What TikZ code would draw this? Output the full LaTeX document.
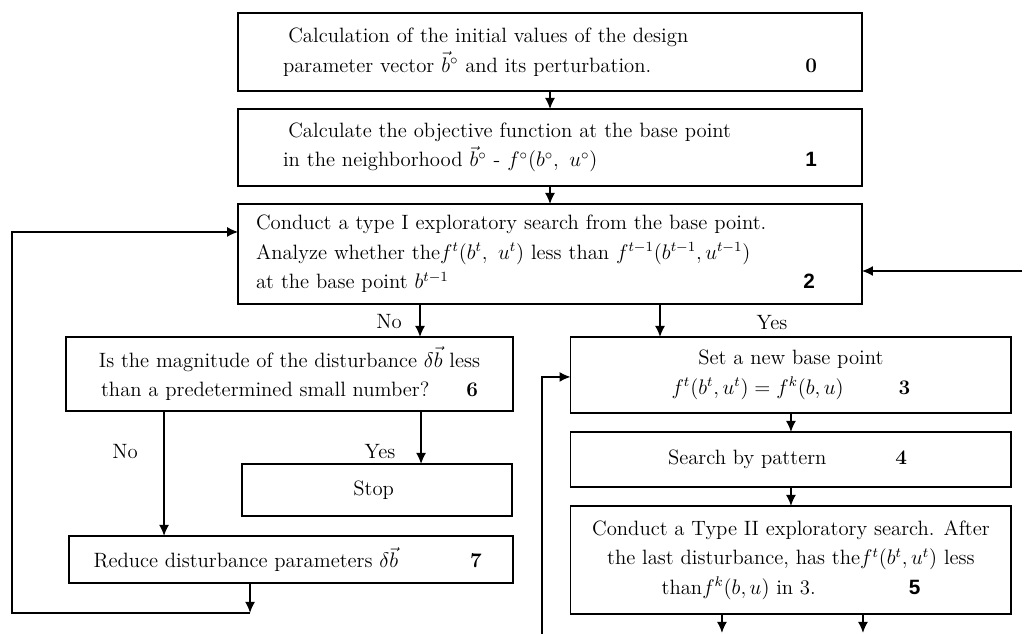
\documentclass[tikz,border=0pt]{standalone}
\usepackage{fontspec}
\newfontfamily\numfont{Liberation Sans}
\usetikzlibrary{
  positioning,
  calc,
  arrows.meta}
\tikzset{
  flow_arrow/.style={-{Latex[length=2.2mm, width=2mm]}, line width=0.8pt}
}
\tikzset{
  %% wideblock : a full width step, text flush left
  wideblock/.style={
    rectangle,
    draw=black,
    line width=1.1pt,
    minimum width=12.48cm,
    align=left,
    inner ysep=0pt,
    outer sep=0pt
  },
  %% stepbox : a step of one of the two branches
  stepbox/.style={
    rectangle,
    draw=black,
    line width=1.1pt,
    align=center,
    inner sep=0pt,
    outer sep=0pt
  },
  %% branch : the Yes / No labels
  branch/.style={
    inner sep=0pt
  }
}

\begin{document}
\begin{tikzpicture}
  [x=0.02cm,
  y=-0.02cm,
  font=\fontsize{11.8}{16.8}\selectfont]

  \useasboundingbox (0, 0) rectangle (1027, 634);

  %% Main column
  \node (init) [wideblock, minimum height=1.56cm, inner xsep=0.9cm,
    text width=10.68cm] at (550, 52) {%
    \hspace*{3pt}Calculation of the initial values of the design\\
    parameter vector $\vec{b}^{\circ}$ and its perturbation.\hfill\textbf{0}
  };

  \node (objective) [below=0.36cm of init, wideblock, minimum height=1.54cm,
    inner xsep=0.9cm, text width=10.68cm] {%
    \hspace*{3pt}Calculate the objective function at the base point\\
    in the neighborhood $\vec{b}^{\circ}$ - $f^{\circ}(b^{\circ},\ u^{\circ})$\hfill{\numfont\bfseries 1}
  };

  \node (explore) [below=0.36cm of objective, wideblock, minimum height=2cm,
    inner xsep=0.36cm, text width=11.76cm] {%
    Conduct a type I exploratory search from the base point.\\
    Analyze whether the$f^{t}(b^{t},\ u^{t})$ less than $f^{t-1}(b^{t-1},u^{t-1})$\\
    at the base point $b^{t-1}$\hfill{\numfont\bfseries 2}\hspace*{0.58cm}
  };

  %% Left branch
  \node (check) [below=0.66cm of explore, xshift=-5.21cm, stepbox,
    minimum width=8.94cm, minimum height=1.48cm] {%
    Is the magnitude of the disturbance $\delta\vec{b}$ less\\
    than a predetermined small number?\hspace{0.74cm}\textbf{6}
  };

  \node (stop) [below=1.06cm of check, xshift=1.75cm, stepbox,
    minimum width=5.4cm, minimum height=1.04cm] {%
    Stop
  };

  \node (reduce) [below=0.4cm of stop, xshift=-1.72cm, stepbox,
    minimum width=8.88cm, minimum height=0.94cm] {%
    Reduce disturbance parameters $\delta\vec{b}$\hspace{1.44cm}\textbf{7}
  };

  %% Right branch
  \node (newbase) [below=0.66cm of explore, xshift=4.82cm, stepbox,
    minimum width=8.82cm, minimum height=1.52cm] {%
    Set a new base point\\
    $f^{t}(b^{t},u^{t}) = f^{k}(b,u)$\hspace{1.1cm}\textbf{3}
  };

  \node (pattern) [below=0.38cm of newbase, stepbox,
    minimum width=8.82cm, minimum height=1.1cm] {%
    Search by pattern\hspace{1.38cm}\textbf{4}
  };

  \node (explore2) [below=0.38cm of pattern, stepbox,
    minimum width=8.82cm, minimum height=2.16cm] {%
    Conduct a Type II exploratory search. After\\
    the last disturbance, has the$f^{t}(b^{t},u^{t})$ less\\
    than$f^{k}(b,u)$ in 3.\hspace{1.86cm}{\numfont\bfseries 5}
  };

  %% Connections
  \draw [flow_arrow] (init) -- (objective);
  \draw [flow_arrow] (objective) -- (explore);

  \draw [flow_arrow] ($(explore.south)+(-130, 0)$) coordinate (nofork)
    -- (nofork |- check.north);
  \draw [flow_arrow] ($(explore.south)+(110, 0)$) coordinate (yesfork)
    -- (yesfork |- newbase.north);

  \draw [flow_arrow] ($(check.south)+(-125.5, 0)$) coordinate (nofork2)
    -- (nofork2 |- reduce.north);
  \draw [flow_arrow] ($(check.south)+(131.5, 0)$) coordinate (yesfork2)
    -- (yesfork2 |- stop.north);

  \draw [flow_arrow] (newbase) -- (pattern);
  \draw [flow_arrow] (pattern) -- (explore2);

  %% Loop back from step 7 to step 2
  \draw [flow_arrow] ($(reduce.south)+(-41, 0)$) -- ++(0, 30) coordinate (loopcorner);
  \draw [flow_arrow] (loopcorner) -- ++(-238, 0) |- ($(explore.west)+(0, -22)$);

  %% Return into step 2 and step 3
  \coordinate (backin) at (1022, 271);
  \draw [flow_arrow] (backin) -- (backin -| explore.east);
  \coordinate (loopin) at (542, 634);
  \draw [flow_arrow] (loopin) |- ($(newbase.west)+(0, 2)$);

  %% Outputs of step 5
  \draw [flow_arrow] ($(explore2.south)+(-69, 0)$) -- ++(0, 19) coordinate (outno);
  \draw [flow_arrow] ($(explore2.south)+(72, 0)$) -- ++(0, 19) coordinate (outyes);

  %% Branch labels
  \node (nolabel) [branch] at (389, 322) {No};
  \node (yeslabel) [branch] at (772, 323) {Yes};
  \node (nolabel2) [branch] at (125, 452) {No};
  \node (yeslabel2) [branch] at (380, 452) {Yes};

\end{tikzpicture}
\end{document}
